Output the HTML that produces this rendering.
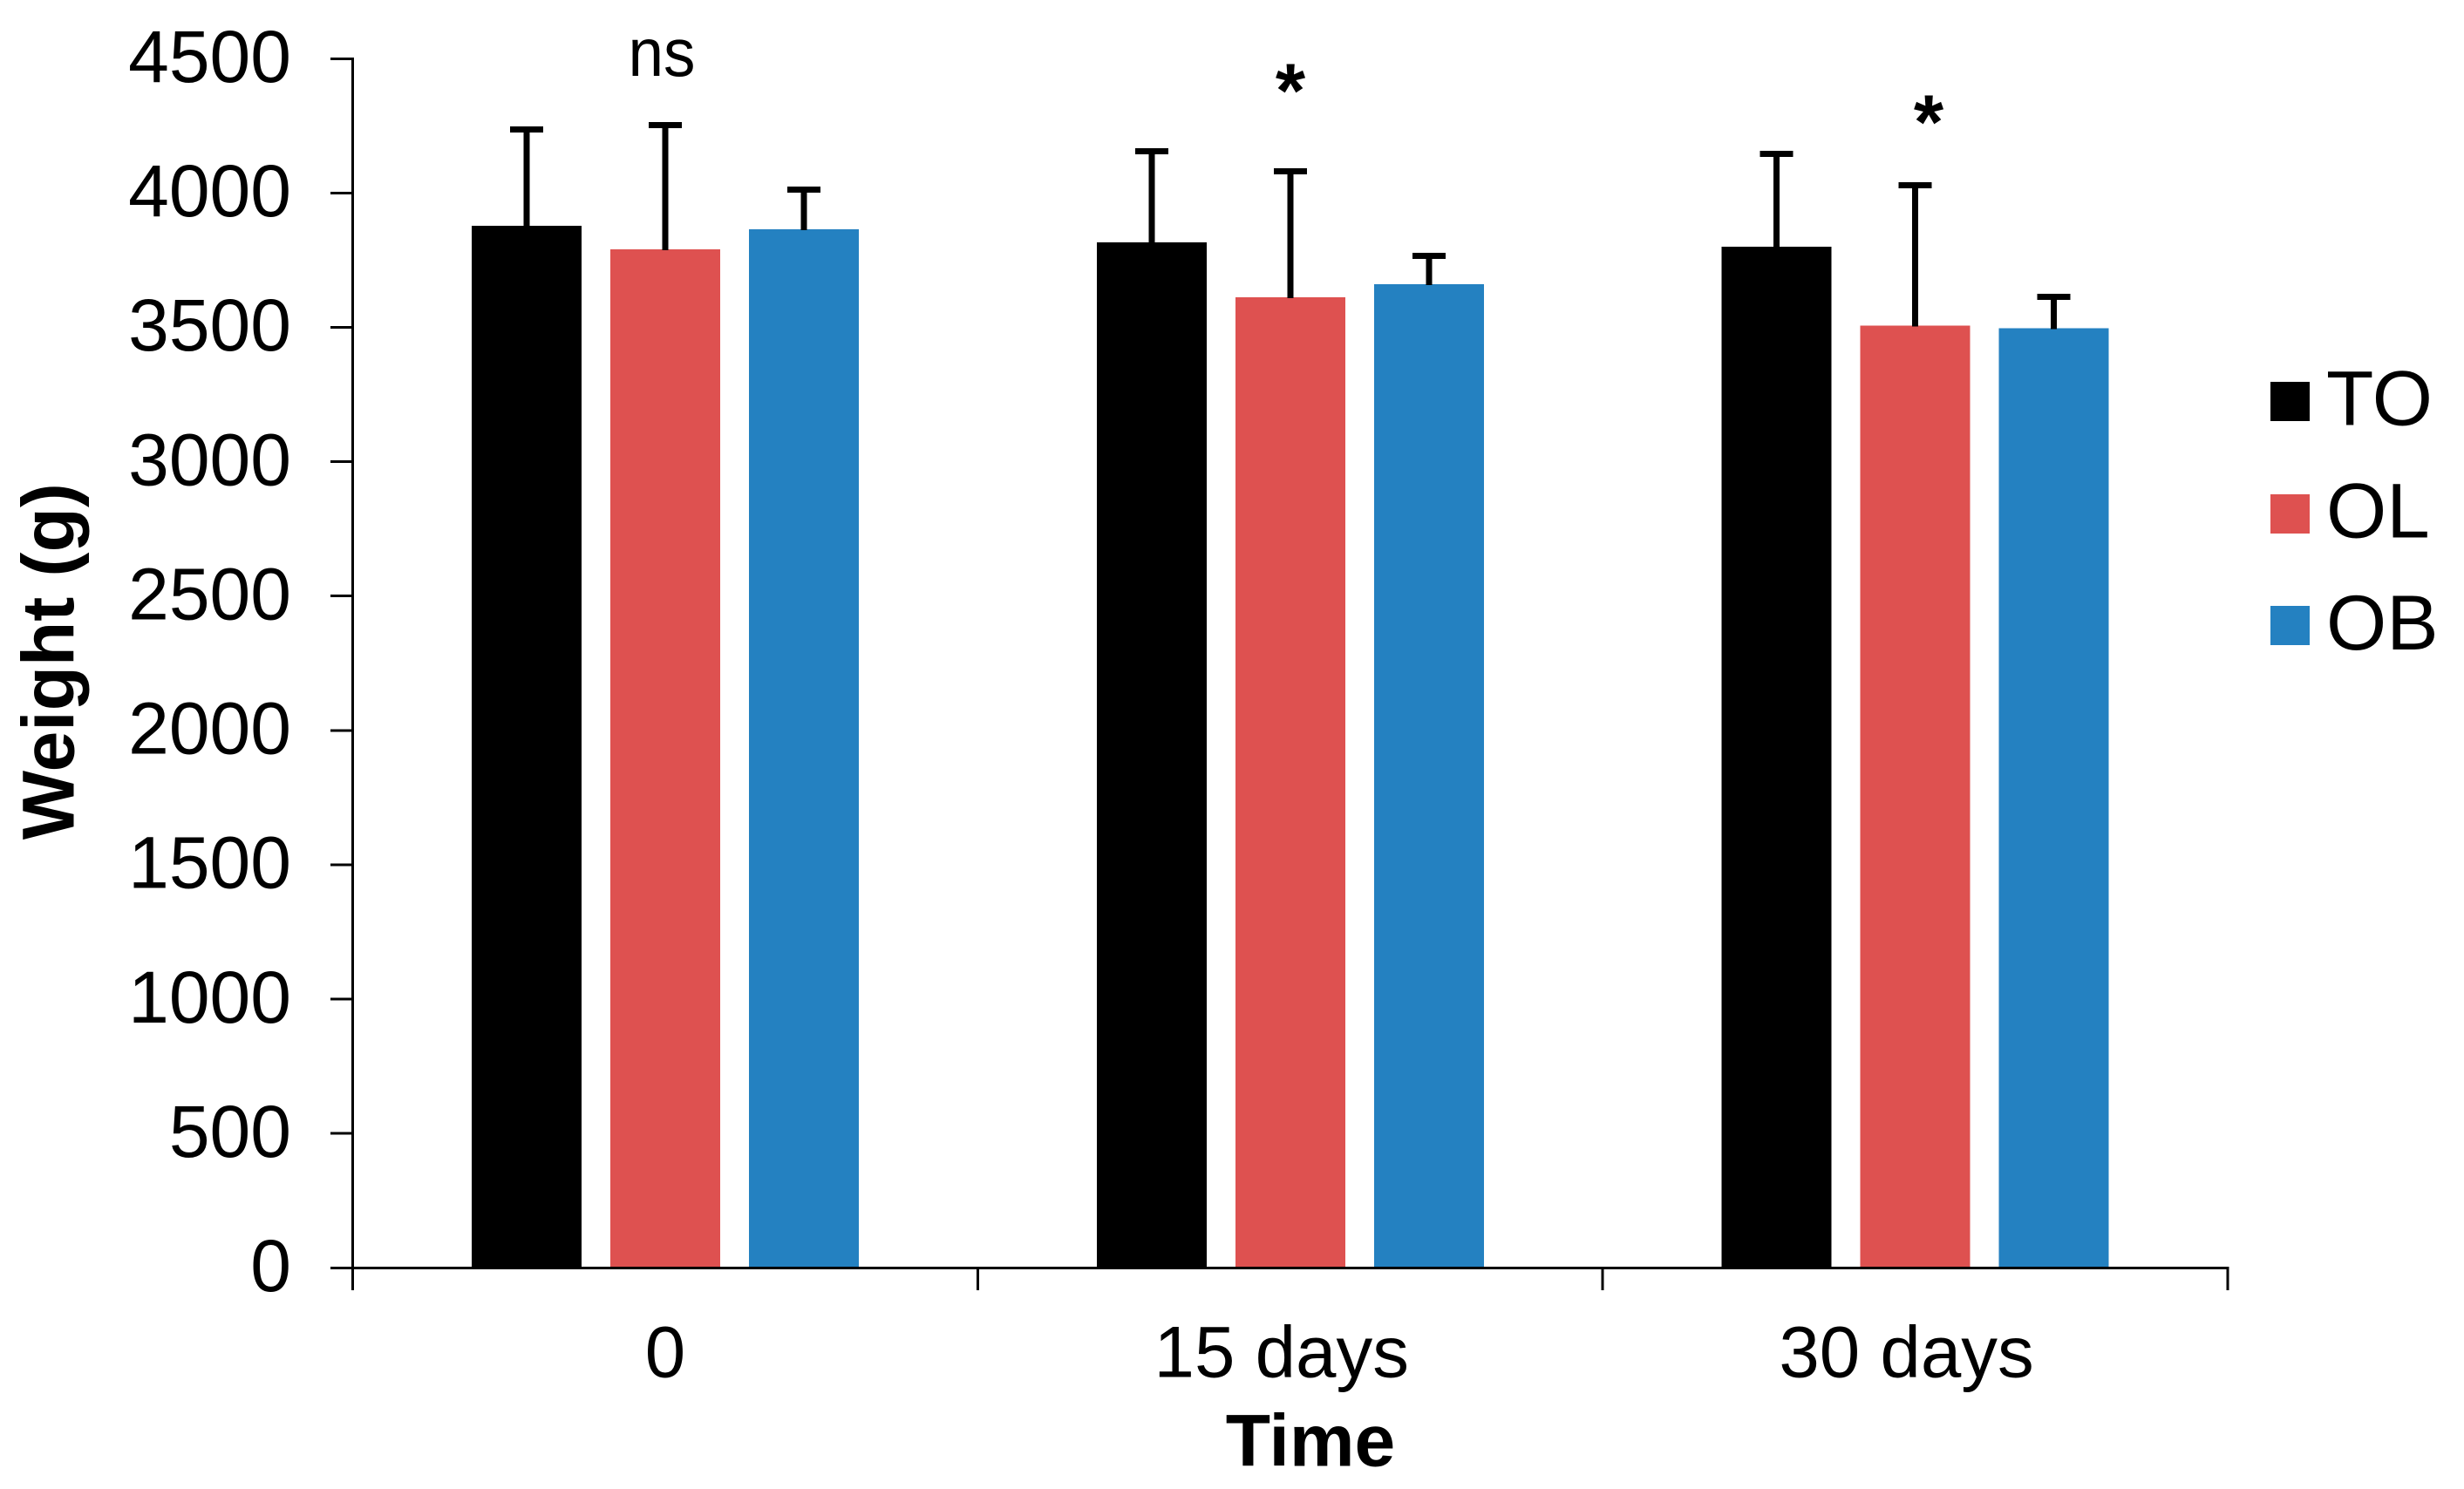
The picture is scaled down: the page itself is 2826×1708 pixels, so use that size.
<!DOCTYPE html>
<html lang="en">
<head>
<meta charset="utf-8">
<title>Weight over time by group</title>
<style>
  html, body { margin: 0; padding: 0; background: #fff; }
  svg { display: block; }
  text { font-family: "Liberation Sans", Arial, sans-serif; fill: #000; }
</style>
</head>
<body>
<svg id="chart" xmlns="http://www.w3.org/2000/svg" width="2826" height="1708" viewBox="0 0 2826 1708">
  <rect x="0" y="0" width="2826" height="1708" fill="#fff"/>
  <g id="bars"></g>
  <g id="errors"></g>
  <g id="axes"></g>

  <text transform="translate(84.7,758.7) rotate(-90)" text-anchor="middle" font-size="84" font-weight="700">Weight (g)</text>
  <text x="1503" y="1681.7" text-anchor="middle" font-size="84" font-weight="700">Time</text>

  <text x="759" y="87" text-anchor="middle" font-size="78" textLength="77" lengthAdjust="spacingAndGlyphs">ns</text>
  <text x="1480" y="134" text-anchor="middle" font-size="88" font-weight="700">*</text>
  <text x="2212" y="170" text-anchor="middle" font-size="88" font-weight="700">*</text>

  <g>
    <g>
      <rect x="2604" y="438" width="45" height="45" fill="#000000"/>
      <text x="2668" y="487.7" font-size="89">TO</text>
    </g>
    <g>
      <rect x="2604" y="567" width="45" height="45" fill="#DE5150"/>
      <text x="2668" y="616.7" font-size="89">OL</text>
    </g>
    <g>
      <rect x="2604" y="695" width="45" height="45" fill="#2481C1"/>
      <text x="2668" y="745" font-size="89">OB</text>
    </g>
  </g>
</svg>
<script>
const categories = ["0", "15 days", "30 days"];
const seriesNames = ["TO", "OL", "OB"];
const meansTO = [3878, 3816, 3800];
const meansOL = [3790, 3612, 3507];
const meansOB = [3865, 3660, 3497];
const errorsTO = [359, 339, 346];
const errorsOL = [463, 469, 522];
const errorsOB = [148, 106, 116];
const yTickLabels = [0, 500, 1000, 1500, 2000, 2500, 3000, 3500, 4000, 4500];

const means = [meansTO, meansOL, meansOB];
const errors = [errorsTO, errorsOL, errorsOB];
const colors = ["#000000", "#DE5150", "#2481C1"];

const NS = "http://www.w3.org/2000/svg";
const plotLeft = 404.5, plotRight = 2555, plotBottom = 1454.3, plotTop = 67.3, yMax = 4500;
const barWidth = 126, barStep = 159, capWidth = 38;

function yScale(v) { return plotBottom - (v / yMax) * (plotBottom - plotTop); }
function xBand(i) { return plotLeft + (plotRight - plotLeft) / categories.length * i; }
function xCenter(i) { return xBand(i + 0.5); }
function xBar(i, s) { return xCenter(i) + (s - 1) * barStep; }
function make(tag, attrs, parent) {
  const el = document.createElementNS(NS, tag);
  for (const k in attrs) el.setAttribute(k, attrs[k]);
  parent.appendChild(el);
  return el;
}

const barsLayer = document.getElementById("bars");
const errorsLayer = document.getElementById("errors");
const axesLayer = document.getElementById("axes");

seriesNames.forEach(function (name, s) {
  categories.forEach(function (cat, i) {
    const cx = xBar(i, s);
    const top = yScale(means[s][i]);
    const upper = yScale(means[s][i] + errors[s][i]);

    const bar = make("rect", { x: cx - barWidth / 2, y: top, width: barWidth, height: plotBottom - top, fill: colors[s], "shape-rendering": "crispEdges" }, barsLayer);
    
    

    const stem = make("line", { x1: cx, x2: cx, y1: top + 1, y2: upper, stroke: "#000", "stroke-width": 7, "shape-rendering": "crispEdges" }, errorsLayer);
    
    

    const cap = make("line", { x1: cx - capWidth / 2, x2: cx + capWidth / 2, y1: upper, y2: upper, stroke: "#000", "stroke-width": 7, "shape-rendering": "crispEdges" }, errorsLayer);
    
    
  });
});

const yAxisLine = make("line", { x1: plotLeft, x2: plotLeft, y1: plotTop - 1.5, y2: 1480, stroke: "#000", "stroke-width": 3, "shape-rendering": "crispEdges" }, axesLayer);



const xAxisLine = make("line", { x1: plotLeft, x2: plotRight + 1.5, y1: plotBottom, y2: plotBottom, stroke: "#000", "stroke-width": 3, "shape-rendering": "crispEdges" }, axesLayer);



yTickLabels.forEach(function (v) {
  const y = yScale(v);
  const tick = make("line", { x1: 379, x2: plotLeft, y1: y, y2: y, stroke: "#000", "stroke-width": 3, "shape-rendering": "crispEdges" }, axesLayer);
  
  

  const label = make("text", { x: 334, y: y + 26.7, "text-anchor": "end", "font-size": 84 }, axesLayer);
  label.textContent = String(v);
  
  
});

for (let i = 1; i <= categories.length; i++) {
  const x = xBand(i);
  const tick = make("line", { x1: x, x2: x, y1: plotBottom, y2: 1480, stroke: "#000", "stroke-width": 3, "shape-rendering": "crispEdges" }, axesLayer);
  
  
}

categories.forEach(function (cat, i) {
  const nudge = i === 0 ? 0 : -10;
  const label = make("text", { x: xCenter(i) + nudge, y: 1579.5, "text-anchor": "middle", "font-size": 83.5 }, axesLayer);
  label.textContent = cat;
  
  
});
</script>
</body>
</html>
